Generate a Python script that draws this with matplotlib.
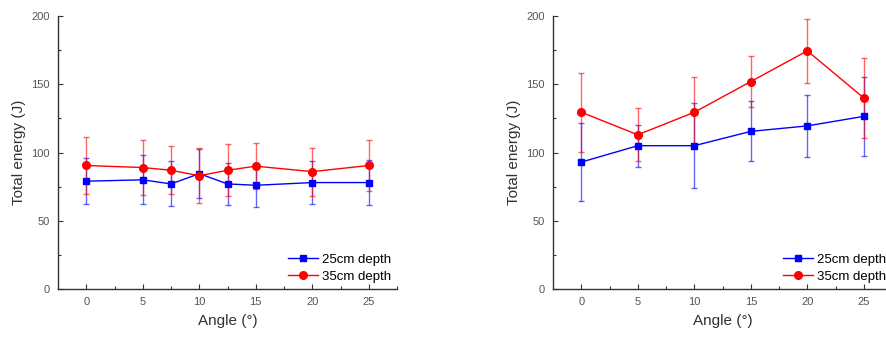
import numpy as np
import matplotlib.pyplot as plt
from matplotlib.ticker import MultipleLocator

plt.rcParams['font.family'] = ['Liberation Sans', 'DejaVu Sans']

# Left panel
angle_a = [0, 5, 7.5, 10, 12.5, 15, 20, 25]
e25_a = [79, 80, 77, 84.5, 77, 76, 78, 78]
err25_a = [17, 18, 16.5, 18, 15.5, 16, 15.5, 16.5]
e35_a = [90.5, 89, 87, 83, 87, 90, 86, 90.5]
err35_a = [21, 20, 17.5, 20, 19, 17, 17.5, 19]

# Right panel
angle_b = [0, 5, 10, 15, 20, 25]
e25_b = [93, 105, 105, 115.5, 119.5, 126.5]
err25_b = [28.5, 15.5, 31, 22, 23, 29]
e35_b = [129.5, 113, 129.5, 152, 174.5, 140]
err35_b = [29, 19.5, 26, 18.5, 23.5, 29]

fig = plt.figure(figsize=(8.86, 3.37), dpi=100)
ax1 = fig.add_axes([0.0655, 0.1424, 0.3826, 0.810])
ax2 = fig.add_axes([0.6242, 0.1424, 0.3826, 0.810])


def panel(ax, x, y1, s1, y2, s2):
    c1 = ax.errorbar(x, y1, yerr=s1, color='#0000ff', marker='s', ms=5, lw=1,
                     elinewidth=1, capsize=2, ecolor=(0, 0, 1, 0.6))
    c2 = ax.errorbar(x, y2, yerr=s2, color='#ff0000', marker='o', ms=5.5, lw=1,
                     elinewidth=1, capsize=2, ecolor=(1, 0, 0, 0.6))
    ax.set_xlim(-2.5, 27.5)
    ax.set_ylim(0, 200)
    ax.xaxis.set_major_locator(MultipleLocator(5))
    ax.xaxis.set_minor_locator(MultipleLocator(2.5))
    ax.yaxis.set_major_locator(MultipleLocator(50))
    ax.yaxis.set_minor_locator(MultipleLocator(25))
    for s in ['top', 'right']:
        ax.spines[s].set_visible(False)
    for s in ['left', 'bottom']:
        ax.spines[s].set_color('#333333')
        ax.spines[s].set_linewidth(1)
    ax.tick_params(which='major', direction='in', length=3.5, width=0.8,
                   labelsize=8, labelcolor='#555555', color='#333333', pad=6)
    ax.tick_params(which='minor', direction='in', length=2, width=0.8,
                   color='#333333')
    ax.set_xlabel('Angle (°)', fontsize=11, color='#333333', labelpad=5)
    ax.set_ylabel('Total energy (J)', fontsize=11, color='#333333', labelpad=4)
    ax.legend([c1[0], c2[0]], ['25cm depth', '35cm depth'],
              loc='lower right', frameon=False, fontsize=9.5, handlelength=2.3,
              handletextpad=0.3, labelspacing=0.35, borderaxespad=0.4,
              bbox_to_anchor=(1.015, -0.015))


panel(ax1, angle_a, e25_a, err25_a, e35_a, err35_a)
panel(ax2, angle_b, e25_b, err25_b, e35_b, err35_b)

fig.savefig('out.png', dpi=100)
